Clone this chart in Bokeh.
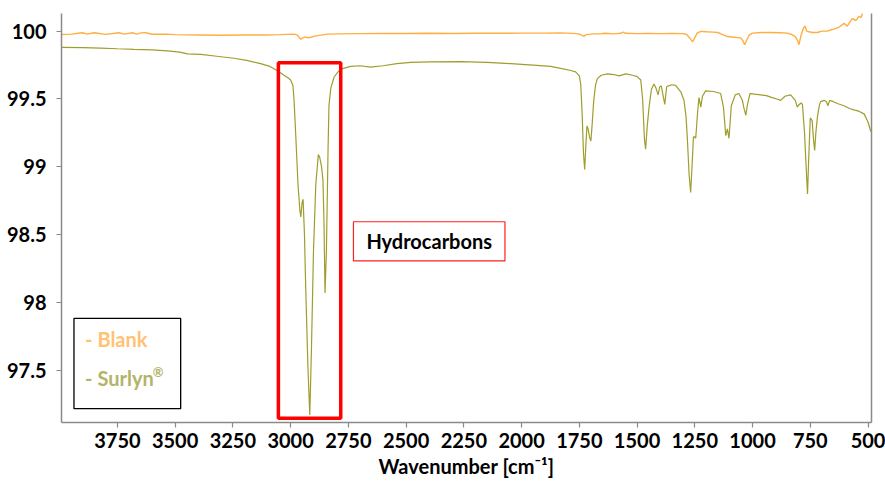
from bokeh.plotting import figure
from bokeh.models import Range1d, LinearAxis, FixedTicker, NumeralTickFormatter
from bokeh.core.properties import value
from bokeh.embed import file_html
from bokeh.resources import INLINE

# ---------------- data ----------------
surlyn_wn = [3992, 3900, 3822, 3750, 3678, 3600, 3534, 3480, 3447, 3389, 3320, 3245, 3190, 3130, 3090,
             3072, 3050, 3029, 3010, 3000, 2990, 2985, 2978, 2968, 2960, 2956, 2950, 2946, 2940, 2935,
             2925, 2917, 2910, 2901, 2891, 2880, 2874, 2866, 2860, 2856, 2851, 2845, 2838, 2834, 2826,
             2812, 2795, 2783, 2740, 2700, 2653, 2600, 2540, 2480, 2400, 2264, 2150, 2047, 1950, 1874,
             1831, 1787, 1766, 1750, 1744, 1738, 1732, 1727, 1722, 1717, 1712, 1706, 1700, 1695, 1688,
             1680, 1672, 1655, 1628, 1600, 1578, 1549, 1520, 1499, 1484, 1476, 1468, 1463, 1456, 1448,
             1438, 1427, 1418, 1409, 1402, 1395, 1388, 1380, 1372, 1366, 1350, 1333, 1310, 1297, 1288,
             1282, 1275, 1268, 1262, 1256, 1250, 1246, 1238, 1232, 1224, 1217, 1203, 1170, 1138, 1126,
             1116, 1109, 1102, 1092, 1075, 1059, 1044, 1037, 1029, 1022, 1011, 990, 965, 940, 915, 895,
             878, 860, 835, 815, 806, 800, 790, 784, 775, 768, 762, 756, 750, 742, 736, 731, 726, 719,
             710, 705, 690, 680, 674, 666, 650, 630, 604, 580, 561, 540, 517, 500, 488]
surlyn_t = [99.880, 99.878, 99.875, 99.870, 99.866, 99.862, 99.855, 99.845, 99.832, 99.828, 99.815,
            99.800, 99.785, 99.760, 99.740, 99.722, 99.700, 99.675, 99.655, 99.640, 99.600, 99.490,
            99.240, 98.870, 98.680, 98.630, 98.740, 98.760, 98.500, 98.130, 97.520, 97.170, 97.640,
            98.380, 98.870, 99.090, 99.070, 99.000, 98.900, 98.630, 98.070, 98.380, 99.120, 99.450,
            99.580, 99.660, 99.700, 99.720, 99.740, 99.745, 99.735, 99.745, 99.760, 99.770, 99.773,
            99.775, 99.770, 99.760, 99.750, 99.740, 99.725, 99.710, 99.700, 99.670, 99.610, 99.400,
            99.100, 98.980, 99.150, 99.300, 99.280, 99.220, 99.190, 99.300, 99.480, 99.600, 99.650,
            99.675, 99.685, 99.680, 99.670, 99.685, 99.675, 99.665, 99.640, 99.500, 99.200, 99.130,
            99.300, 99.440, 99.570, 99.610, 99.580, 99.530, 99.590, 99.595, 99.530, 99.460, 99.590,
            99.595, 99.605, 99.600, 99.550, 99.490, 99.370, 99.200, 98.950, 98.810, 99.000, 99.220,
            99.220, 99.210, 99.400, 99.510, 99.440, 99.520, 99.560, 99.555, 99.540, 99.440, 99.230,
            99.280, 99.210, 99.450, 99.530, 99.540, 99.490, 99.430, 99.380, 99.460, 99.540, 99.535,
            99.530, 99.525, 99.510, 99.500, 99.490, 99.520, 99.530, 99.490, 99.440, 99.455, 99.470,
            99.460, 99.250, 99.000, 98.800, 99.100, 99.360, 99.340, 99.200, 99.120, 99.250, 99.370,
            99.460, 99.480, 99.490, 99.480, 99.450, 99.490, 99.480, 99.465, 99.450, 99.430, 99.420,
            99.410, 99.390, 99.330, 99.260]

blank_wn = [3992, 3950, 3902, 3880, 3851, 3800, 3743, 3720, 3685, 3665, 3649, 3627, 3600, 3540, 3500,
            3400, 3300, 3200, 3100, 3050, 2985, 2970, 2956, 2945, 2935, 2925, 2913, 2890, 2841, 2800,
            2700, 2600, 2500, 2400, 2300, 2200, 2100, 2000, 1900, 1831, 1760, 1745, 1736, 1730, 1722,
            1710, 1690, 1660, 1640, 1600, 1570, 1560, 1550, 1500, 1450, 1400, 1350, 1300, 1285, 1272,
            1260, 1252, 1240, 1224, 1200, 1170, 1150, 1130, 1109, 1080, 1051, 1042, 1034, 1025, 1015,
            1000, 960, 920, 880, 850, 830, 815, 805, 799, 790, 780, 773, 765, 756, 740, 719, 700, 676,
            660, 647, 625, 604, 590, 575, 568, 553, 539, 530, 524]
blank_t = [99.975, 99.978, 99.988, 99.978, 99.988, 99.976, 99.988, 99.978, 99.988, 99.978, 99.987,
           99.988, 99.977, 99.978, 99.974, 99.972, 99.970, 99.971, 99.972, 99.974, 99.978, 99.970,
           99.940, 99.952, 99.958, 99.950, 99.955, 99.965, 99.978, 99.980, 99.982, 99.983, 99.983,
           99.984, 99.983, 99.984, 99.984, 99.985, 99.985, 99.987, 99.982, 99.975, 99.966, 99.963,
           99.972, 99.976, 99.980, 99.980, 99.984, 99.980, 99.984, 99.992, 99.984, 99.982, 99.983,
           99.982, 99.983, 99.982, 99.975, 99.950, 99.921, 99.945, 99.985, 99.998, 99.995, 99.993,
           99.990, 99.975, 99.960, 99.955, 99.950, 99.930, 99.900, 99.935, 99.970, 99.985, 99.990,
           99.990, 99.988, 99.985, 99.975, 99.960, 99.930, 99.900, 99.970, 100.020, 100.037, 100.000,
           99.995, 99.990, 99.990, 100.000, 100.000, 100.010, 100.015, 100.030, 100.057, 100.037,
           100.075, 100.094, 100.077, 100.110, 100.100, 100.135]

x_ticks = [3750, 3500, 3250, 3000, 2750, 2500, 2250, 2000, 1750, 1500, 1250, 1000, 750, 500]
y_ticks = [97.5, 98.0, 98.5, 99.0, 99.5, 100.0]

series_names = ["- Blank", "- Surlyn"]
registered_mark = "\u00ae"
annotation_text = "Hydrocarbons"
x_title = "Wavenumber [cm\u207b\u00b9]"

# highlighted hydrocarbon region (wavenumbers / %T)
hc_region = dict(left=3053, right=2783, bottom=97.147, top=99.767)

# ---------------- styling ----------------
FONT = "Lato"
FS = "20px"
C_BLANK = "#FFAE42"
C_SURLYN = "#9E9E2E"
C_BLANK_TXT = "#FFC273"
C_SURLYN_TXT = "#B3B36A"
AXIS_GRAY = "#8A8A8A"

p = figure(width=885, height=487, output_backend="svg", toolbar_location=None,
           x_range=Range1d(3992, 485), y_range=Range1d(97.115, 100.13),
           min_border_left=61, min_border_right=14, min_border_top=13, min_border_bottom=65,
           background_fill_color="white", border_fill_color="white")
p.outline_line_color = None
p.grid.visible = False

p.line(blank_wn, blank_t, line_color=C_BLANK, line_width=1.4)
p.line(surlyn_wn, surlyn_t, line_color=C_SURLYN, line_width=1.2)

# red highlight box
p.quad(left=[hc_region["left"]], right=[hc_region["right"]],
       bottom=[hc_region["bottom"]], top=[hc_region["top"]],
       fill_alpha=0, line_color="#FF0000", line_width=3.5)

# annotation box "Hydrocarbons"
p.quad(left=[2728], right=[2072], bottom=[98.306], top=[98.595],
       fill_color="white", line_color="#FF2020", line_width=1.2)
p.text(x=[2400], y=[98.45], text=[annotation_text], text_font=value(FONT),
       text_font_style="bold", text_font_size=FS, text_color="black",
       text_align="center", text_baseline="middle")

# legend box
p.quad(left=[3938], right=[3476], bottom=[97.217], top=[97.882],
       fill_color="white", line_color="black", line_width=1.3)
p.text(x=[3890, 3890], y=[97.727, 97.443], text=series_names,
       text_color=[C_BLANK_TXT, C_SURLYN_TXT], text_font=value(FONT),
       text_font_style="bold", text_font_size=FS,
       text_align="left", text_baseline="middle")
p.text(x=[3597], y=[97.49], text=[registered_mark], text_color=C_SURLYN_TXT,
       text_font=value(FONT), text_font_style="bold", text_font_size="13px",
       text_align="left", text_baseline="middle")

# axes
xa = p.xaxis[0]
xa.ticker = FixedTicker(ticks=x_ticks)
xa.formatter = NumeralTickFormatter(format="0")
xa.axis_label = x_title
ya = p.yaxis[0]
ya.ticker = FixedTicker(ticks=y_ticks)
ya.formatter = NumeralTickFormatter(format="0.[0]")

for ax in (xa, ya):
    ax.axis_line_color = AXIS_GRAY
    ax.axis_line_width = 1.5
    ax.major_tick_line_color = AXIS_GRAY
    ax.major_tick_line_width = 1.2
    ax.major_tick_out = 5
    ax.major_tick_in = 0
    ax.minor_tick_line_color = None
    ax.major_label_text_font = FONT
    ax.major_label_text_font_style = "bold"
    ax.major_label_text_font_size = FS
    ax.major_label_text_color = "black"
    ax.axis_label_text_font = FONT
    ax.axis_label_text_font_style = "bold"
    ax.axis_label_text_font_size = FS
    ax.axis_label_text_color = "black"
xa.major_label_standoff = 5
xa.axis_label_standoff = 3
ya.major_label_standoff = 10

ra = LinearAxis(ticker=FixedTicker(ticks=[]), axis_line_color=AXIS_GRAY, axis_line_width=1.5,
                major_tick_line_color=None, minor_tick_line_color=None,
                major_label_text_font_size="0px")
p.add_layout(ra, "right")

open("out.html", "w").write(file_html(p, INLINE))
